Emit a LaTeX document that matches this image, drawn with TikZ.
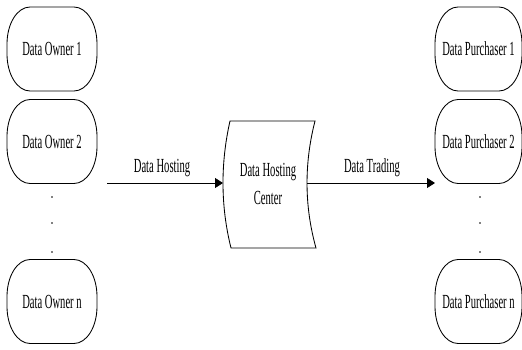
\documentclass[tikz,border=0pt]{standalone}
\usepackage{fontspec}
\setmainfont{Liberation Serif}[FakeStretch=0.53]
\usetikzlibrary{arrows.meta}
\tikzset{
  lbl/.style={inner sep=0pt, align=center, font=\fontsize{20}{27.5}\selectfont},
  outline/.style={draw=black, line width=0.85pt},
  flow/.style={draw=black, line width=0.85pt, -{Triangle[length=8pt,width=10pt]}},
  dot/.style={fill=black, draw=none}
}
% name, cx, cy, half straight width, text
\newcommand\capsulebox[5]{%
  \node[lbl] (#1) at (#2,#3) {#5};
  \draw[outline] (#2,#3) ++(-#4,42) -- ++(2*#4,0)
    arc[start angle=90,end angle=0,x radius=23pt,y radius=37pt] -- ++(0,-10)
    arc[start angle=0,end angle=-90,x radius=23pt,y radius=37pt] -- ++(-2*#4,0)
    arc[start angle=270,end angle=180,x radius=23pt,y radius=37pt] -- ++(0,10)
    arc[start angle=180,end angle=90,x radius=23pt,y radius=37pt] -- cycle;
}
\begin{document}
\begin{tikzpicture}[x=1pt,y=1pt]
\useasboundingbox (0,0) rectangle (522,349);
% owners
\capsulebox{o1}{52}{300}{22}{Data Owner 1}
\capsulebox{o2}{52}{207.5}{22}{Data Owner 2}
\capsulebox{on}{52}{47.5}{22}{Data Owner n}
\fill[dot] (52,152) circle (0.8pt) (52,126) circle (0.8pt) (52,97) circle (0.8pt);
% purchasers
\capsulebox{p1}{478.5}{300}{20.5}{Data Purchaser 1}
\capsulebox{p2}{478.5}{207.5}{20.5}{Data Purchaser 2}
\capsulebox{pn}{478.5}{47.5}{20.5}{Data Purchaser n}
\fill[dot] (480,152) circle (0.8pt) (480,126) circle (0.8pt) (480,97) circle (0.8pt);
% center
\draw[outline] (230,228) -- (315,228) .. controls (304.2,186) and (304.2,143) .. (316,101)
  -- (231,101) .. controls (220.5,143) and (220.5,186) .. (230,228) -- cycle;
\node[lbl] (ctr) at (268,165) {Data Hosting\\Center};
\coordinate (cl) at (223,166);
\coordinate (cr) at (307,166);
\coordinate (hs) at (107,166);
\coordinate (te) at (435,166);
% arrows
\draw[flow] (hs) -- (cl);
\draw[flow] (cr) -- (te);
\node[lbl, anchor=base] (hl) at (162,176.5) {Data Hosting};
\node[lbl, anchor=base] (tl) at (372,176.5) {Data Trading};
\end{tikzpicture}
\end{document}
